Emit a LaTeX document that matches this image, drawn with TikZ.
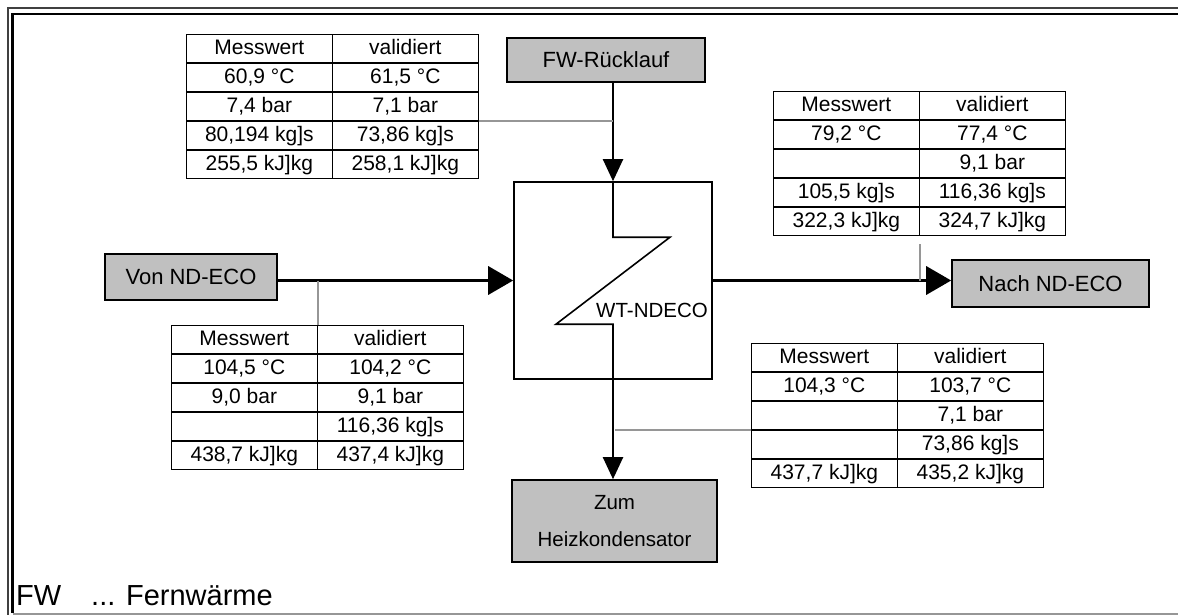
\documentclass[tikz,border=0pt]{standalone}
\usepackage{fontspec}
\setmainfont{Liberation Sans}
\usetikzlibrary{arrows.meta,matrix}
\definecolor{boxgray}{RGB}{192,192,192}
\definecolor{linkgray}{RGB}{150,150,150}
\begin{document}
\begin{tikzpicture}[x=1pt,y=-1pt,
  every node/.style={font=\fontsize{21}{24}\selectfont},
  dtable/.style={matrix, matrix of nodes, nodes in empty cells, anchor=north west,
    row sep=-0.6pt, column sep=-1.6pt,
    nodes={draw, line width=1.6pt, minimum width=146pt, minimum height=28pt,
      inner sep=0pt, text height=15pt, text depth=3pt, anchor=center}},
  graybox/.style={draw, line width=1.6pt, fill=boxgray, inner sep=0pt,
    font=\fontsize{22}{26}\selectfont},
  link/.style={draw=linkgray, line width=1.5pt},
  flowthick/.style={line width=3.5pt, -{Triangle[length=25pt,width=28pt]}},
  flowthin/.style={line width=2pt, -{Triangle[length=22pt,width=20pt]}}]
\useasboundingbox (0,0) rectangle (1178,615);

% frame
\draw[black!75, line width=2pt] (7.5,615) -- (7.5,8.5) -- (1178,8.5);
\draw[black, line width=2.5pt] (12.5,612.5) -- (12.5,14) -- (1178,14);
\draw[linkgray, line width=2pt] (12.5,614) -- (1178,614);

% tables
\matrix[dtable] (tl) at (182,30) {
Messwert & validiert \\
60,9 °C & 61,5 °C \\
7,4 bar & 7,1 bar \\
80,194 kg]s & 73,86 kg]s \\
255,5 kJ]kg & 258,1 kJ]kg \\
};
\matrix[dtable] (tr) at (769,87) {
Messwert & validiert \\
79,2 °C & 77,4 °C \\
 & 9,1 bar \\
105,5 kg]s & 116,36 kg]s \\
322,3 kJ]kg & 324,7 kJ]kg \\
};
\matrix[dtable] (bl) at (167,321) {
Messwert & validiert \\
104,5 °C & 104,2 °C \\
9,0 bar & 9,1 bar \\
 & 116,36 kg]s \\
438,7 kJ]kg & 437,4 kJ]kg \\
};
\matrix[dtable] (br) at (747,339) {
Messwert & validiert \\
104,3 °C & 103,7 °C \\
 & 7,1 bar \\
 & 73,86 kg]s \\
437,7 kJ]kg & 435,2 kJ]kg \\
};

% boxes
\node[graybox, minimum width=198pt, minimum height=44pt] (fw) at (606,60) {FW-Rücklauf};
\node[graybox, minimum width=172pt, minimum height=46pt] (von) at (191,277) {Von ND-ECO};
\node[graybox, minimum width=197pt, minimum height=47pt] (nach) at (1050.5,283.5) {Nach ND-ECO};
\node[graybox, minimum width=205pt, minimum height=82pt, align=center,
  font=\fontsize{20.5}{37}\selectfont] (zum) at (614.5,521) {Zum\\Heizkondensator};

% heat exchanger
\node[draw, line width=1.6pt, minimum width=198pt, minimum height=197pt, inner sep=0pt] (hx) at (613,280.5) {};
\draw[line width=1.6pt] (hx.north) -- ++(0,56) -- ++(57,0) -- ++(-114,87) -- ++(57,0) -- (hx.south);
\node[anchor=west, inner sep=0pt, font=\fontsize{20.5}{24}\selectfont] (wtl) at (596,310) {WT-NDECO};

% flows
\draw[flowthick] (von.east |- hx.west) -- (hx.west);
\draw[flowthick] (hx.east) -- (hx.east -| nach.west);
\draw[flowthin] (hx.north |- fw.south) -- (hx.north);
\draw[flowthin] (hx.south) -- (hx.south |- zum.north);

% gray links
\draw[link] (tl-3-2.south east) -- (hx.north |- tl-3-2.south east);
\draw[link] (bl-1-1.north east |- hx.west) -- (bl-1-1.north east);
\draw[link] ([yshift=-8pt]tr-5-1.south east) -- (tr-5-1.south east |- hx.east);
\draw[link] (br-3-1.south west) -- ([xshift=2pt]hx.south |- br-3-1.south west);

% legend
\node[anchor=base west, inner sep=0pt, font=\fontsize{29}{32}\selectfont] (fwlbl) at (16,605) {FW};
\node[anchor=base west, inner sep=0pt, font=\fontsize{29}{32}\selectfont] (fwdef) at (91,605) {... Fernwärme};
\end{tikzpicture}
\end{document}
